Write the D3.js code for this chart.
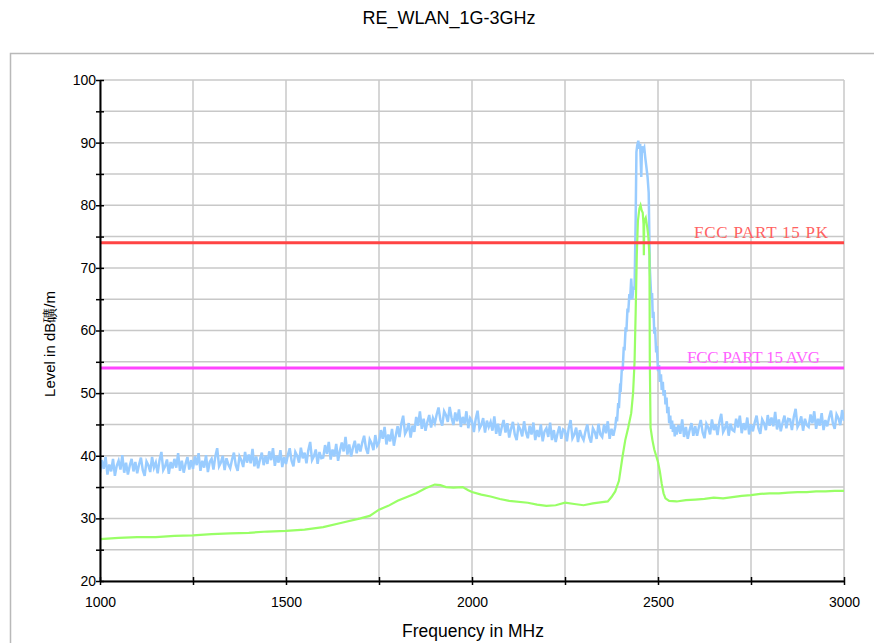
<!DOCTYPE html>
<html>
<head>
<meta charset="utf-8">
<script src="https://cdn.jsdelivr.net/npm/d3@7"></script>
<style>
  body { margin: 0; background: #fff; }
  svg { display: block; font-family: "Liberation Sans", Arial, sans-serif; }
</style>
</head>
<body>
<script>
// chart text
var chartTitle = "RE_WLAN_1G-3GHz";
var xLabel = "Frequency in MHz";
var yLabel = "Level in dB礦/m";

// axis ticks
var xTicks = [1000, 1250, 1500, 1750, 2000, 2250, 2500, 2750, 3000];
var yTicks = [20, 25, 30, 35, 40, 45, 50, 55, 60, 65, 70, 75, 80, 85, 90, 95, 100];

// limit lines [name, level]
var limits = [["FCC PART 15  PK", 74], ["FCC PART 15 AVG", 54]];

// peak detector, 1000-2380 MHz, one reading every 5 MHz
var peakLowStart = 1000, peakStep = 5;
var peakLow = [
  37.3,39.3,37.9,39.8,37.0,38.6,37.5,39.5,36.8,38.4, 39.2,37.8,40.1,37.3,38.9,37.0,38.4,39.5,37.5,39.0,
  37.2,38.6,39.7,37.7,36.8,39.1,38.5,37.4,39.8,38.1, 38.9,37.2,39.3,40.6,37.7,38.3,39.4,37.1,39.0,38.0,
  39.5,38.1,40.4,37.6,39.2,37.3,38.7,39.8,37.8,39.3, 37.9,39.9,38.5,40.4,37.6,39.2,38.1,40.1,37.4,39.0,
  39.5,37.8,39.9,41.2,38.3,38.9,40.0,37.7,39.6,38.6, 38.0,39.4,40.5,38.5,37.6,39.9,39.3,38.2,40.6,38.9,
  40.2,38.8,41.1,38.3,39.9,38.0,39.4,40.5,38.5,40.0, 38.7,40.7,39.3,41.2,38.4,40.0,38.9,40.9,38.2,39.8,
  38.7,40.1,41.2,39.2,38.3,40.6,40.0,38.9,41.3,39.6, 40.5,38.8,40.9,42.2,39.3,39.9,41.0,38.7,40.6,39.6,
  39.7,41.7,40.3,42.2,39.4,41.0,39.9,41.9,39.2,40.8, 42.1,40.7,43.0,40.2,41.8,39.9,41.3,42.4,40.4,41.9,
  40.7,42.1,43.2,41.2,40.3,42.6,42.0,40.9,43.3,41.6, 42.1,44.1,42.7,44.6,41.8,43.4,42.3,44.3,41.6,43.2,
  44.7,43.0,45.1,46.4,43.5,44.1,45.2,42.9,44.8,43.8, 46.2,44.8,47.1,44.3,45.9,44.0,45.4,46.5,44.5,46.0,
  45.2,46.6,47.7,45.7,44.8,47.1,46.5,45.4,47.8,46.1, 44.9,46.9,45.5,47.4,44.6,46.2,45.1,47.1,44.4,46.0,
  45.5,43.8,45.9,47.2,44.3,44.9,46.0,43.7,45.6,44.6, 45.4,44.0,46.3,43.5,45.1,43.2,44.6,45.7,43.7,45.2,
  42.9,44.3,45.4,43.4,42.5,44.8,44.2,43.1,45.5,43.8, 42.8,44.8,43.4,45.3,42.5,44.1,43.0,45.0,42.3,43.9,
  44.4,43.0,45.3,42.5,44.1,42.2,43.6,44.7,42.7,44.2, 44.0,42.3,44.4,45.7,42.8,43.4,44.5,42.2,44.1,43.1,
  42.5,43.9,45.0,43.0,42.1,44.4,43.8,42.7,45.1,43.4, 43.0,45.0,43.6,45.5,42.7,44.3,43.2
];

// peak detector around the WLAN carrier [MHz, dBuV/m]
var peakMid = [
  [2385,44.6],[2388,46.2],[2390,45.5],[2393,48.4],[2395,47.6],[2398,51.0],[2400,50.8],[2403,54.2],[2405,53.6],
  [2408,57.4],[2410,56.8],[2413,60.5],[2415,59.8],[2418,63.5],[2420,62.9],[2423,65.8],[2425,64.9],[2428,68.3],
  [2431,65.0],[2434,67.0],[2437,66.5],[2440,78.0],[2442,88.5],[2444,89.5],[2447,90.3],[2450,89.0],[2452,89.8],
  [2455,84.5],[2457,89.4],[2460,88.8],[2463,89.2],[2466,87.5],[2469,86.0],[2472,84.5],[2475,82.0],[2478,70.0],
  [2480,67.5],[2482,65.0],[2484,66.0],[2486,62.0],[2488,63.0],[2490,59.5],[2492,60.5],[2495,56.5],[2497,57.5],
  [2500,53.5],[2503,54.5],[2505,51.8],[2508,53.0],[2510,50.5],[2513,51.8],[2515,49.6],[2518,50.5],[2520,48.2],
  [2523,49.3],[2525,46.8],[2528,47.8],[2530,45.2],[2533,46.4],[2535,44.3],[2538,45.6],[2540,43.8],[2543,45.0],
  [2545,43.1],[2548,44.6],[2550,43.4]
];

// peak detector, 2555-3000 MHz, one reading every 5 MHz
var peakHighStart = 2555;
var peakHigh = [
  44.9,43.5,45.8,43.0,44.6,42.7,44.1,45.2,43.2,44.7, 43.2,44.6,45.7,43.7,42.8,45.1,44.5,43.4,45.8,44.1,
  45.0,43.3,45.4,46.7,43.8,44.4,45.5,43.2,45.1,44.1, 43.9,45.9,44.5,46.4,43.6,45.2,44.1,46.1,43.4,45.0,
  43.9,45.3,46.4,44.4,43.5,45.8,45.2,44.1,46.5,44.8, 46.1,44.7,47.0,44.2,45.8,43.9,45.3,46.4,44.4,45.9,
  45.8,44.1,46.2,47.5,44.6,45.2,46.3,44.0,45.9,44.9, 44.6,46.6,45.2,47.1,44.3,45.9,44.8,46.8,44.1,45.7,
  44.7,46.1,47.2,45.2,44.3,46.6,46.0,44.9,47.3,45.6
];

// average detector trace [MHz, dBuV/m]
var avgTrace = [
  [1000,26.7],[1050,26.9],[1100,27.0],[1150,27.0],[1200,27.2],[1250,27.3],[1300,27.5],[1350,27.6],[1400,27.7],
  [1450,27.9],[1500,28.0],[1550,28.2],[1600,28.6],[1650,29.3],[1700,30.0],[1725,30.4],[1750,31.4],[1775,32.0],
  [1800,32.8],[1825,33.4],[1850,34.0],[1875,34.8],[1900,35.4],[1915,35.3],[1930,35.0],[1950,34.9],[1975,35.0],
  [1990,34.5],[2000,34.2],[2025,33.8],[2050,33.5],[2075,33.1],[2100,32.8],[2150,32.5],[2175,32.2],[2200,32.0],
  [2225,32.1],[2250,32.5],[2275,32.3],[2300,32.1],[2325,32.4],[2350,32.6],[2365,32.7],[2375,33.4],[2385,34.3],
  [2395,36.0],[2400,38.0],[2405,40.0],[2412,42.5],[2420,44.5],[2428,46.8],[2433,50.0],[2437,55.0],[2440,63.0],
  [2443,72.0],[2446,77.5],[2450,79.5],[2453,80.0],[2456,79.2],[2459,78.8],[2461,77.0],[2462,72.0],[2463,77.5],
  [2467,78.0],[2471,76.5],[2474,75.0],[2477,72.0],[2478,55.0],[2480,44.5],[2485,42.5],[2490,41.0],[2495,40.0],
  [2500,39.0],[2505,37.5],[2510,35.5],[2515,34.0],[2520,33.2],[2530,32.8],[2550,32.7],[2575,32.9],[2600,33.0],
  [2625,33.1],[2650,33.3],[2675,33.2],[2700,33.4],[2725,33.6],[2750,33.7],[2775,33.9],[2800,34.0],[2825,34.0],
  [2850,34.1],[2875,34.2],[2900,34.2],[2925,34.3],[2950,34.3],[2975,34.4],[3000,34.4]
];

var peakTrace = peakLow.map(function(v, i) { return [peakLowStart + i * peakStep, v]; })
  .concat(peakMid)
  .concat(peakHigh.map(function(v, i) { return [peakHighStart + i * peakStep, v]; }));

var svg = d3.select("body").append("svg")
    .attr("width", 874)
    .attr("height", 643);

var x = d3.scaleLinear().domain([1000, 3000]).range([100, 844]);
var y = d3.scaleLinear().domain([20, 100]).range([581, 80]);

// outer frame
svg.append("rect")
    .attr("x", 10.5).attr("y", 53.5)
    .attr("width", 900).attr("height", 700)
    .attr("fill", "none")
    .attr("stroke", "#b9b9b9")
    .attr("stroke-width", 1.5);

svg.append("text")
    .attr("x", 449).attr("y", 24)
    .attr("text-anchor", "middle")
    .style("font-size", "18px")
    .text(chartTitle);

// grid
var grid = svg.append("g").attr("stroke", "#c8c8c8").attr("stroke-width", 1.5);
grid.selectAll(".gx").data(xTicks).enter().append("line")
    .attr("x1", function(d) { return x(d); }).attr("x2", function(d) { return x(d); })
    .attr("y1", y(20)).attr("y2", y(100));
grid.selectAll(".gy").data(yTicks).enter().append("line")
    .attr("x1", x(1000)).attr("x2", x(3000))
    .attr("y1", function(d) { return y(d); }).attr("y2", function(d) { return y(d); });

svg.append("clipPath").attr("id", "plot")
  .append("rect").attr("x", 100).attr("y", 80).attr("width", 744).attr("height", 501);

var line = d3.line()
    .x(function(d) { return x(d[0]); })
    .y(function(d) { return y(d[1]); });

svg.append("path")
    .datum(peakTrace)
    .attr("clip-path", "url(#plot)")
    .attr("fill", "none")
    .attr("stroke", "#99ccff")
    .attr("stroke-width", 2.5)
    .attr("d", line);

svg.append("path")
    .datum(avgTrace)
    .attr("clip-path", "url(#plot)")
    .attr("fill", "none")
    .attr("stroke", "#99ff66")
    .attr("stroke-width", 2.2)
    .attr("d", line);

// limit lines
var limitColor = ["#ff4444", "#ff44ff"];
var labelColor = ["#ff6262", "#ff62ff"];
var labelWidth = [134, 133];
var labelEnd = [828, 820];
limits.forEach(function(l, i) {
  svg.append("line")
      .attr("x1", x(1000)).attr("x2", x(3000))
      .attr("y1", y(l[1])).attr("y2", y(l[1]))
      .attr("stroke", limitColor[i])
      .attr("stroke-width", 3);
  svg.append("text")
      .attr("x", labelEnd[i] - labelWidth[i])
      .attr("y", y(l[1]) - 5)
      .attr("textLength", labelWidth[i])
      .attr("lengthAdjust", "spacing")
      .style("font-family", "'Liberation Serif', 'Times New Roman', serif")
      .style("font-size", "17px")
      .attr("fill", labelColor[i])
      .text(l[0]);
});

// axes
var yAxis = svg.append("g")
    .attr("transform", "translate(100,0)")
    .call(d3.axisLeft(y).tickValues(yTicks).tickSize(4).tickSizeOuter(0).tickPadding(0)
      .tickFormat(function(d) { return d % 10 === 0 ? d : ""; }));
var xAxis = svg.append("g")
    .attr("transform", "translate(0,581)")
    .call(d3.axisBottom(x).tickValues(xTicks).tickSize(4).tickSizeOuter(0).tickPadding(12)
      .tickFormat(function(d) { return d % 500 === 0 ? d : ""; }));

yAxis.selectAll(".tick line").attr("x1", 4);
xAxis.selectAll(".tick line").attr("y1", -4);
[xAxis, yAxis].forEach(function(a) {
  a.attr("font-family", null).attr("font-size", null);
  a.selectAll("text").style("font-size", "14px").attr("fill", "#000");
  a.selectAll(".tick line").attr("stroke", "#000").attr("stroke-width", 1.5);
  a.select(".domain").attr("stroke", "#000").attr("stroke-width", 2);
});

svg.append("text")
    .attr("x", 473).attr("y", 637)
    .attr("text-anchor", "middle")
    .style("font-size", "17.5px")
    .text(xLabel);

svg.append("text")
    .attr("transform", "translate(55,344) rotate(-90)")
    .attr("text-anchor", "middle")
    .style("font-size", "15px")
    .text(yLabel);
</script>
</body>
</html>
